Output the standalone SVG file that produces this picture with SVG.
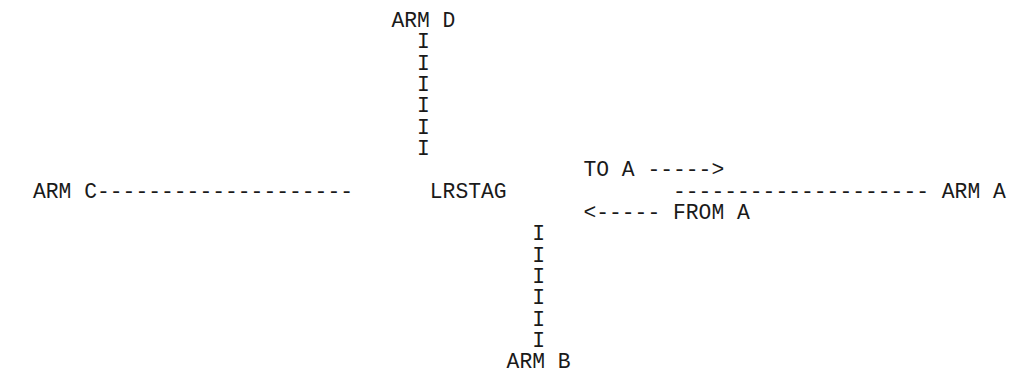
<svg xmlns="http://www.w3.org/2000/svg" width="1011" height="370" viewBox="0 0 1011 370">
<style>
text{font-family:"Liberation Mono","DejaVu Sans Mono",monospace;font-size:21.33px;fill:#1a1a1a;white-space:pre}
</style>
<rect width="1011" height="370" fill="#ffffff"/>
<g id="connectors">
<text x="417" y="48.33">I</text>
<text x="417" y="69.67">I</text>
<text x="417" y="91">I</text>
<text x="417" y="112.33">I</text>
<text x="417" y="133.67">I</text>
<text x="417" y="155">I</text>
<text x="97" y="197.67">--------------------</text>
<text x="673" y="197.67">--------------------</text>
<text x="532.2" y="240.33">I</text>
<text x="532.2" y="261.67">I</text>
<text x="532.2" y="283">I</text>
<text x="532.2" y="304.33">I</text>
<text x="532.2" y="325.67">I</text>
<text x="532.2" y="347">I</text>
</g>
<g id="arm-d"><text x="391.4" y="27">ARM D</text></g>
<g id="arm-c"><text x="33" y="197.67">ARM C</text></g>
<g id="lrstag"><text x="429.8" y="197.67">LRSTAG</text></g>
<g id="arm-a"><text x="941.8" y="197.67">ARM A</text></g>
<g id="arm-b"><text x="506.6" y="367.5">ARM B</text></g>
<g id="to-a"><text x="583.4" y="176.33">TO A -----&gt;</text></g>
<g id="from-a"><text x="583.4" y="219">&lt;----- FROM A</text></g>
</svg>
